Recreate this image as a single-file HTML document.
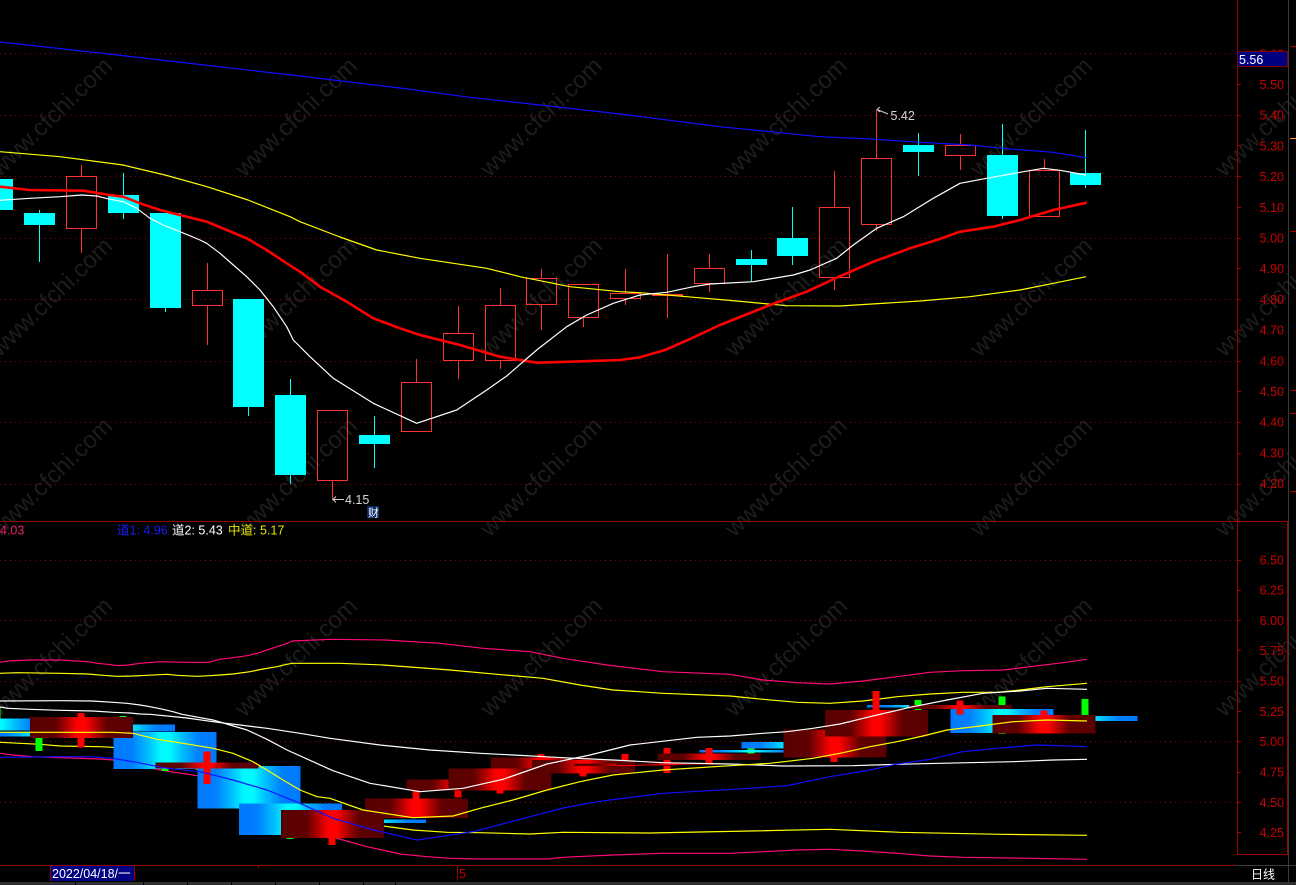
<!DOCTYPE html>
<html><head><meta charset="utf-8"><style>
html,body{margin:0;padding:0;background:#000;overflow:hidden;}
svg{display:block;font-family:"Liberation Sans","Noto Sans CJK SC",sans-serif;}
</style></head><body>
<svg width="1296" height="885" viewBox="0 0 1296 885" xmlns="http://www.w3.org/2000/svg">
<defs>
<linearGradient id="gb" x1="0" y1="0" x2="1" y2="0">
<stop offset="0" stop-color="#0078ff"/><stop offset="0.18" stop-color="#0080ff"/><stop offset="0.35" stop-color="#00c4ff"/><stop offset="0.45" stop-color="#00f8ff"/><stop offset="0.55" stop-color="#00f8ff"/><stop offset="0.65" stop-color="#00c4ff"/><stop offset="0.82" stop-color="#0080ff"/><stop offset="1" stop-color="#0078ff"/>
</linearGradient>
<linearGradient id="gr" x1="0" y1="0" x2="1" y2="0">
<stop offset="0" stop-color="#580000"/><stop offset="0.25" stop-color="#600000"/><stop offset="0.42" stop-color="#e00000"/><stop offset="0.46" stop-color="#ff0000"/><stop offset="0.54" stop-color="#ff0000"/><stop offset="0.58" stop-color="#e00000"/><stop offset="0.75" stop-color="#600000"/><stop offset="1" stop-color="#580000"/>
</linearGradient>
</defs>
<rect x="0" y="0" width="1296" height="885" fill="#000"/>

<!-- watermarks -->
<g fill="#1d1d1d" font-size="24" text-anchor="middle">
<text x="51" y="125" transform="rotate(-44 51 117)">www.cfchi.com</text>
<text x="296" y="125" transform="rotate(-44 296 117)">www.cfchi.com</text>
<text x="541" y="125" transform="rotate(-44 541 117)">www.cfchi.com</text>
<text x="786" y="125" transform="rotate(-44 786 117)">www.cfchi.com</text>
<text x="1031" y="125" transform="rotate(-44 1031 117)">www.cfchi.com</text>
<text x="1276" y="125" transform="rotate(-44 1276 117)">www.cfchi.com</text>
<text x="51" y="305" transform="rotate(-44 51 297)">www.cfchi.com</text>
<text x="296" y="305" transform="rotate(-44 296 297)">www.cfchi.com</text>
<text x="541" y="305" transform="rotate(-44 541 297)">www.cfchi.com</text>
<text x="786" y="305" transform="rotate(-44 786 297)">www.cfchi.com</text>
<text x="1031" y="305" transform="rotate(-44 1031 297)">www.cfchi.com</text>
<text x="1276" y="305" transform="rotate(-44 1276 297)">www.cfchi.com</text>
<text x="51" y="485" transform="rotate(-44 51 477)">www.cfchi.com</text>
<text x="296" y="485" transform="rotate(-44 296 477)">www.cfchi.com</text>
<text x="541" y="485" transform="rotate(-44 541 477)">www.cfchi.com</text>
<text x="786" y="485" transform="rotate(-44 786 477)">www.cfchi.com</text>
<text x="1031" y="485" transform="rotate(-44 1031 477)">www.cfchi.com</text>
<text x="1276" y="485" transform="rotate(-44 1276 477)">www.cfchi.com</text>
<text x="51" y="665" transform="rotate(-44 51 657)">www.cfchi.com</text>
<text x="296" y="665" transform="rotate(-44 296 657)">www.cfchi.com</text>
<text x="541" y="665" transform="rotate(-44 541 657)">www.cfchi.com</text>
<text x="786" y="665" transform="rotate(-44 786 657)">www.cfchi.com</text>
<text x="1031" y="665" transform="rotate(-44 1031 657)">www.cfchi.com</text>
<text x="1276" y="665" transform="rotate(-44 1276 657)">www.cfchi.com</text>
</g>

<!-- gridlines -->
<g stroke="#8b0000" stroke-width="1" stroke-dasharray="1 4" shape-rendering="crispEdges">
<line x1="0" y1="53.5" x2="1237" y2="53.5"/>
<line x1="0" y1="115.5" x2="1237" y2="115.5"/>
<line x1="0" y1="176.5" x2="1237" y2="176.5"/>
<line x1="0" y1="238.5" x2="1237" y2="238.5"/>
<line x1="0" y1="299.5" x2="1237" y2="299.5"/>
<line x1="0" y1="361.5" x2="1237" y2="361.5"/>
<line x1="0" y1="422.5" x2="1237" y2="422.5"/>
<line x1="0" y1="484.5" x2="1237" y2="484.5"/>
<line x1="0" y1="560.5" x2="1237" y2="560.5"/>
<line x1="0" y1="620.5" x2="1237" y2="620.5"/>
<line x1="0" y1="681.5" x2="1237" y2="681.5"/>
<line x1="0" y1="741.5" x2="1237" y2="741.5"/>
<line x1="0" y1="802.5" x2="1237" y2="802.5"/>
</g>

<!-- upper candles: down (cyan) -->
<g stroke="#00ffff" stroke-width="1" shape-rendering="crispEdges">
<line x1="39.5" y1="210" x2="39.5" y2="262"/>
<line x1="123.5" y1="173" x2="123.5" y2="219"/>
<line x1="165.5" y1="213" x2="165.5" y2="312"/>
<line x1="248.5" y1="299" x2="248.5" y2="416"/>
<line x1="290.5" y1="379" x2="290.5" y2="484"/>
<line x1="374.5" y1="416" x2="374.5" y2="468"/>
<line x1="751.5" y1="250" x2="751.5" y2="281"/>
<line x1="792.5" y1="207" x2="792.5" y2="265"/>
<line x1="918.5" y1="133" x2="918.5" y2="176"/>
<line x1="1002.5" y1="124" x2="1002.5" y2="219"/>
<line x1="1085.5" y1="130" x2="1085.5" y2="188"/>
</g>
<g fill="#00ffff" shape-rendering="crispEdges">
<rect x="-18" y="179" width="31" height="31"/>
<rect x="24" y="213" width="31" height="12"/>
<rect x="108" y="195" width="31" height="18"/>
<rect x="150" y="213" width="31" height="95"/>
<rect x="233" y="299" width="31" height="108"/>
<rect x="275" y="395" width="31" height="80"/>
<rect x="359" y="435" width="31" height="9"/>
<rect x="736" y="259" width="31" height="6"/>
<rect x="777" y="238" width="31" height="18"/>
<rect x="903" y="145" width="31" height="7"/>
<rect x="987" y="155" width="31" height="61"/>
<rect x="1070" y="173" width="31" height="12"/>
</g>
<!-- upper candles: up (red hollow) -->
<g stroke="#ff3232" stroke-width="1" fill="none" shape-rendering="crispEdges">
<line x1="81.5" y1="165" x2="81.5" y2="176"/><line x1="81.5" y1="229" x2="81.5" y2="253"/>
<rect x="66.5" y="176.5" width="30" height="52"/>
<line x1="207.5" y1="263" x2="207.5" y2="290"/><line x1="207.5" y1="306" x2="207.5" y2="345"/>
<rect x="192.5" y="290.5" width="30" height="15"/>
<line x1="332.5" y1="481" x2="332.5" y2="500"/>
<rect x="317.5" y="410.5" width="30" height="70"/>
<line x1="416.5" y1="359" x2="416.5" y2="382"/>
<rect x="401.5" y="382.5" width="30" height="49"/>
<line x1="458.5" y1="306" x2="458.5" y2="333"/><line x1="458.5" y1="361" x2="458.5" y2="379"/>
<rect x="443.5" y="333.5" width="30" height="27"/>
<line x1="500.5" y1="288" x2="500.5" y2="305"/><line x1="500.5" y1="361" x2="500.5" y2="369"/>
<rect x="485.5" y="305.5" width="30" height="55"/>
<line x1="541.5" y1="269" x2="541.5" y2="278"/><line x1="541.5" y1="305" x2="541.5" y2="330"/>
<rect x="526.5" y="278.5" width="30" height="26"/>
<line x1="583.5" y1="318" x2="583.5" y2="327"/>
<rect x="568.5" y="284.5" width="30" height="33"/>
<line x1="625.5" y1="269" x2="625.5" y2="293"/><line x1="625.5" y1="299" x2="625.5" y2="305"/>
<rect x="610.5" y="293.5" width="30" height="5"/>
<line x1="667.5" y1="254" x2="667.5" y2="294"/><line x1="667.5" y1="296" x2="667.5" y2="318"/>
<rect x="652.5" y="294.5" width="30" height="1"/>
<line x1="709.5" y1="254" x2="709.5" y2="268"/><line x1="709.5" y1="284" x2="709.5" y2="292"/>
<rect x="694.5" y="268.5" width="30" height="15"/>
<line x1="834.5" y1="171" x2="834.5" y2="207"/><line x1="834.5" y1="278" x2="834.5" y2="290"/>
<rect x="819.5" y="207.5" width="30" height="70"/>
<line x1="876.5" y1="110" x2="876.5" y2="158"/><line x1="876.5" y1="225" x2="876.5" y2="231"/>
<rect x="861.5" y="158.5" width="30" height="66"/>
<line x1="960.5" y1="134" x2="960.5" y2="145"/><line x1="960.5" y1="156" x2="960.5" y2="170"/>
<rect x="945.5" y="145.5" width="30" height="10"/>
<line x1="1044.5" y1="159" x2="1044.5" y2="170"/>
<rect x="1029.5" y="170.5" width="30" height="46"/>
</g>

<!-- upper MA lines -->
<g fill="none" stroke-linejoin="round">
<polyline stroke="#ffff00" stroke-width="1.2" points="0,151.7 60,156.7 123,165 165,175 207,186.7 248,200 290,216.7 300,221.7 340,237 376.7,250 420,258.3 486.7,268.3 520,276.7 570,286.7 620,291.7 640,292.7 686.7,296.7 736.7,301 786.7,305.7 840,306 920,301 970,296.7 1020,290 1053.3,283.3 1086,276.7"/>
<polyline stroke="#1010ff" stroke-width="1.2" points="0,42 100,53 200,64.5 300,76 400,88 470,97.3 540,105 620,114 720,126.7 820,136.7 870,139 920,142.3 970,145 1003,148.3 1053,152.3 1086,157.7"/>
<polyline stroke="#ff0000" stroke-width="2.6" points="0,186.7 30,190 83.3,190.7 110,195 123.3,196.7 140,203.3 160,210 180,215 200,220 206.7,221.7 226.7,230 246.7,238.3 266.7,250 286.7,263.3 300,271.7 320,286.7 346.7,301.7 373.3,318.3 400,328.3 420,335 460,345 500,356.7 536.7,362.7 570,361.7 620,360 640,357.3 665,350 690,339 720,325 770,305 806.7,291.7 836.7,277.7 873.3,261.7 910,248.3 936.7,240 960,231.7 993.3,226.7 1020,220 1053.3,210 1086.7,202.7"/>
<polyline stroke="#ffffff" stroke-width="1.2" points="0,200.3 30,198.3 60,196.7 81.7,195 96.7,196 110,199.3 123.3,201.7 136.7,208.3 150,218.3 163.3,225 180,231.7 200,240 206.7,243.3 220,253.3 233.3,265 246.7,276.7 260,290 273.3,306.7 286.7,326.7 293.3,340 310,356.7 333.3,378.3 373.3,403.3 416.7,423.3 456.7,410 486.7,390 506.7,376 536.7,350 566.7,326.7 586.7,315 613.3,303.3 640,295 666.7,292.3 693.3,286.7 710,284 753.3,281.7 793.3,275 810,270 836.7,258.3 853.3,245 876.7,228.3 903.3,216.7 933.3,198.3 960,183.3 986.7,178.3 1020,172.3 1043.3,168.3 1060,170.3 1086,175"/>
</g>

<!-- annotations -->
<g stroke="#d0d0d0" stroke-width="1" fill="none">
<polyline points="888,114 877,109.5"/><polyline points="880,107 877,109.5 880,112"/>
<polyline points="344,499.5 333,499.5"/><polyline points="336,496.5 333,499.5 336,502.5"/>
</g>
<text x="890.5" y="120" font-size="12.5" fill="#d8d8d8">5.42</text>
<text x="345" y="504" font-size="12.5" fill="#d8d8d8">4.15</text>
<rect x="367" y="506" width="12" height="12" fill="#0a2a6a"/>
<text x="368" y="516.5" font-size="11" fill="#ffffff">财</text>

<!-- panel separator -->
<line x1="0" y1="521.5" x2="1237" y2="521.5" stroke="#900000" stroke-width="1"/>

<!-- lower legend -->
<g font-size="12.5">
<text x="0" y="534.5" fill="#ee1e6c">4.03</text>
<text x="117" y="534.5" fill="#1c1cff">道1: 4.96</text>
<text x="172" y="534.5" fill="#ffffff">道2: 5.43</text>
<text x="228" y="534.5" fill="#e6e600">中道: 5.17</text>
</g>

<!-- lower background-ish lines (behind boxes) -->
<g fill="none" stroke-width="1.2" stroke-linejoin="round">
<polyline stroke="#ff0a78" points="0,662.3 8,661 30,660 60,660 88,661.7 97,663.3 108,664.3 118,665.7 128,665 140,663.3 160,661.7 187,662.3 208,662.3 220,659.3 233,657.7 247,655.7 257,653.3 267,650 277,646.7 287,643.3 292,641 330,639.3 385,640 440,643.3 483,648.3 530,651.7 563,658.3 607,665 663,671.7 730,674.3 763,680 797,682.7 830,684 863,681 897,676.7 930,672.3 963,670.7 1003,670 1030,666.7 1063,662.7 1087,659.3"/>
<polyline stroke="#ffff00" points="0,673.3 17,672.7 60,673.3 88,674 103,675.3 117,676.3 133,676 147,675.3 167,674.3 177,675.3 197,676.3 210,675.7 220,675 233,674 250,671.7 263,669 277,666.7 287,664.3 292,663.3 340,663.3 383,665 450,670 497,674.3 543,678.3 580,685 613,690 663,693.3 730,696 763,699.3 797,702.3 830,703.3 863,701 897,696.7 930,694 963,692.3 997,692.3 1020,690 1047,686.7 1087,683.3"/>
<polyline stroke="#ff0a78" points="0,753.3 13,755 33,756.7 60,757.7 100,759 113,760 160,770 197,775.7 250,795 290,818 330,836 343,840 367,846.7 400,854 427,856.7 450,858.3 480,859 547,859 563,857.3 613,855 663,853.3 730,853.3 763,851.7 797,850 830,849.3 863,851 897,853.3 930,856 963,857.3 1030,858.3 1087,859.3"/>
<polyline stroke="#ffff00" points="0,742.3 20,743.3 40,744.3 60,746 100,746.7 113,747.3 150,755 207,772 260,795 300,812 340,822 383,826 413,830 447,832.3 480,832.7 530,834 563,832.3 650,833 750,831 830,829.3 900,832.3 1000,834.3 1087,835.3"/>
</g>

<!-- green wicks -->
<g fill="#00ff00" shape-rendering="crispEdges">
<rect x="-6.5" y="706.7" width="7" height="18.3"/>
<rect x="35.5" y="730.6" width="7" height="20.5"/>
<rect x="119.5" y="716" width="7" height="18.2"/>
<rect x="161.5" y="731.8" width="7" height="39.1"/>
<rect x="244.5" y="765.8" width="7" height="46.1"/>
<rect x="286.5" y="797.4" width="7" height="41.5"/>
<rect x="370.5" y="811.9" width="7" height="20.6"/>
<rect x="747.5" y="746.4" width="7" height="12.2"/>
<rect x="788.5" y="729.5" width="7" height="22.7"/>
<rect x="914.5" y="700.1" width="7" height="17.1"/>
<rect x="998.5" y="696.7" width="7" height="37.4"/>
<rect x="1081.5" y="699" width="7" height="22.9"/>
</g>
<!-- blue boxes -->
<g fill="url(#gb)" shape-rendering="crispEdges">
<rect x="-53.75" y="718.4" width="103" height="12.2"/>
<rect x="-11.9" y="731.7" width="103" height="4.7"/>
<rect x="71.8" y="724.7" width="103" height="7"/>
<rect x="113.65" y="731.8" width="103" height="37.4"/>
<rect x="197.35" y="765.8" width="103" height="42.6"/>
<rect x="239.2" y="803.7" width="103" height="31.5"/>
<rect x="322.9" y="819.5" width="103" height="3.5"/>
<rect x="699.55" y="750" width="103" height="2.4"/>
<rect x="741.4" y="741.8" width="103" height="6.9"/>
<rect x="866.95" y="705" width="103" height="2.6"/>
<rect x="950.65" y="708.9" width="103" height="24"/>
<rect x="1034.35" y="716" width="103" height="4.8"/>
</g>
<!-- red wicks -->
<g fill="#ff0000" shape-rendering="crispEdges">
<rect x="77.5" y="712.9" width="7" height="34.6"/>
<rect x="203.5" y="751.6" width="7" height="32.4"/>
<rect x="328.5" y="809.8" width="7" height="35.4"/>
<rect x="412.5" y="789.5" width="7" height="28.7"/>
<rect x="454.5" y="768.6" width="7" height="28.7"/>
<rect x="496.5" y="761.5" width="7" height="32.1"/>
<rect x="537.5" y="753.9" width="7" height="24.2"/>
<rect x="579.5" y="760" width="7" height="16.7"/>
<rect x="621.5" y="753.9" width="7" height="14.3"/>
<rect x="663.5" y="748.1" width="7" height="25.1"/>
<rect x="705.5" y="748.1" width="7" height="15.1"/>
<rect x="830.5" y="715.2" width="7" height="47"/>
<rect x="872.5" y="691.1" width="7" height="47.8"/>
<rect x="956.5" y="700.6" width="7" height="14.1"/>
<rect x="1040.5" y="710.5" width="7" height="22.8"/>
</g>
<!-- red boxes -->
<g fill="url(#gr)" shape-rendering="crispEdges">
<rect x="29.95" y="717.2" width="103" height="20.8"/>
<rect x="155.5" y="762.4" width="103" height="6"/>
<rect x="281.05" y="809.8" width="103" height="28"/>
<rect x="364.75" y="798.7" width="103" height="19.5"/>
<rect x="406.6" y="779.4" width="103" height="11"/>
<rect x="448.45" y="768.3" width="103" height="22.1"/>
<rect x="490.3" y="757.5" width="103" height="10.8"/>
<rect x="532.15" y="760" width="103" height="13.4"/>
<rect x="574" y="763.3" width="103" height="2.5"/>
<rect x="615.85" y="763.5" width="103" height="1.5"/>
<rect x="657.7" y="753.7" width="103" height="6.3"/>
<rect x="783.25" y="729.6" width="103" height="28"/>
<rect x="825.1" y="710.2" width="103" height="26.5"/>
<rect x="908.8" y="705" width="103" height="4.2"/>
<rect x="992.5" y="714.8" width="103" height="18.5"/>
</g>

<!-- lower foreground lines -->
<g fill="none" stroke-width="1.2" stroke-linejoin="round">
<polyline stroke="#ffffff" points="0,707 8,708.3 30,709.3 60,710.3 93,711 113,712.3 130,713 140,714 150,714.3 187,718 213,721.7 240,725 267,728.3 300,733.3 330,738.3 380,745 430,750 480,753.3 513,755 563,757.7 613,760 663,762.7 730,764 783,766 853,765.7 897,764.3 940,763.3 1013,761.7 1053,760 1087,759.3"/>
<polyline stroke="#1010ff" points="0,757.3 60,756.7 90,756.7 113,758.3 133,761.7 167,768.3 200,771.7 233,780 267,790 300,803.3 333,818.3 370,829 416.7,840 473,831.7 530,816.7 563,808 597,801.7 663,793.3 750,788.3 787,785.7 830,776.7 870,770 897,764 930,759.3 963,751.7 997,748.3 1037,745 1087,746.7"/>
<polyline stroke="#ffff00" points="0,732.3 113,732.3 133,733.3 157,739.3 183,743.3 213,748.3 233,753.3 253,761.7 267,770 283,780 300,790 317,796.7 330,798.3 363,810 413,817.7 453,816 480,808.3 513,800 547,790 580,781.7 613,775 663,770 730,765.7 770,763.3 813,758.3 840,753.3 870,746.7 897,741.7 923,736 947,730 980,726 1013,721.7 1047,720 1087,721"/>
<polyline stroke="#ffffff" points="0,701 60,700.7 92,701 113,702.3 127,703.3 140,705 150,706.7 163,709.3 173,711.7 182,714.3 213,720 247,730 267,739.3 287,750 313,761.7 333,770.7 370,783.3 420,791.7 463,788.3 503,779.3 547,764 590,755 630,745 697,737.3 730,736 763,733.3 787,731.7 813,728.3 840,724 870,716.7 910,707.3 947,700 983,693.3 1020,691 1047,688.3 1087,689.3"/>
</g>

<!-- right axis -->
<g shape-rendering="crispEdges">
<line x1="1237.5" y1="0" x2="1237.5" y2="521" stroke="#900000"/>
<rect x="1237.5" y="521.5" width="50" height="333" fill="none" stroke="#a00000"/>
<line x1="1288.5" y1="0" x2="1288.5" y2="885" stroke="#3a3a3a"/>
<line x1="1230" y1="865.5" x2="1296" y2="865.5" stroke="#3a3a3a"/>
<g stroke="#a00000">
<line x1="1237" y1="53.5" x2="1241" y2="53.5"/><line x1="1237" y1="84.5" x2="1241" y2="84.5"/><line x1="1237" y1="115.5" x2="1241" y2="115.5"/><line x1="1237" y1="145.5" x2="1241" y2="145.5"/><line x1="1237" y1="176.5" x2="1241" y2="176.5"/><line x1="1237" y1="207.5" x2="1241" y2="207.5"/><line x1="1237" y1="238.5" x2="1241" y2="238.5"/><line x1="1237" y1="268.5" x2="1241" y2="268.5"/><line x1="1237" y1="299.5" x2="1241" y2="299.5"/><line x1="1237" y1="330.5" x2="1241" y2="330.5"/><line x1="1237" y1="361.5" x2="1241" y2="361.5"/><line x1="1237" y1="391.5" x2="1241" y2="391.5"/><line x1="1237" y1="422.5" x2="1241" y2="422.5"/><line x1="1237" y1="453.5" x2="1241" y2="453.5"/><line x1="1237" y1="484.5" x2="1241" y2="484.5"/>
<line x1="1237" y1="560.5" x2="1241" y2="560.5"/><line x1="1237" y1="590.5" x2="1241" y2="590.5"/><line x1="1237" y1="620.5" x2="1241" y2="620.5"/><line x1="1237" y1="650.5" x2="1241" y2="650.5"/><line x1="1237" y1="681.5" x2="1241" y2="681.5"/><line x1="1237" y1="711.5" x2="1241" y2="711.5"/><line x1="1237" y1="741.5" x2="1241" y2="741.5"/><line x1="1237" y1="772.5" x2="1241" y2="772.5"/><line x1="1237" y1="802.5" x2="1241" y2="802.5"/><line x1="1237" y1="832.5" x2="1241" y2="832.5"/>
<line x1="1290" y1="46.5" x2="1296" y2="46.5"/><line x1="1290" y1="231.5" x2="1296" y2="231.5"/><line x1="1290" y1="390.5" x2="1296" y2="390.5"/><line x1="1290" y1="413.5" x2="1296" y2="413.5"/><line x1="1290" y1="491.5" x2="1296" y2="491.5"/>
</g>
<line x1="1290" y1="138.5" x2="1296" y2="138.5" stroke="#ffa020"/>
</g>
<g font-size="12.5" fill="#c80000" text-anchor="end">
<text x="1284" y="58.5">5.60</text>
<text x="1284" y="89">5.50</text>
<text x="1284" y="119.7">5.40</text>
<text x="1284" y="150.4">5.30</text>
<text x="1284" y="181.1">5.20</text>
<text x="1284" y="211.8">5.10</text>
<text x="1284" y="242.5">5.00</text>
<text x="1284" y="273.2">4.90</text>
<text x="1284" y="303.9">4.80</text>
<text x="1284" y="334.6">4.70</text>
<text x="1284" y="365.3">4.60</text>
<text x="1284" y="396">4.50</text>
<text x="1284" y="426.7">4.40</text>
<text x="1284" y="457.4">4.30</text>
<text x="1284" y="488.1">4.20</text>
<text x="1284" y="564.3">6.50</text>
<text x="1284" y="594.6">6.25</text>
<text x="1284" y="624.9">6.00</text>
<text x="1284" y="655.2">5.75</text>
<text x="1284" y="685.5">5.50</text>
<text x="1284" y="715.9">5.25</text>
<text x="1284" y="746.2">5.00</text>
<text x="1284" y="776.5">4.75</text>
<text x="1284" y="806.8">4.50</text>
<text x="1284" y="837.2">4.25</text>
</g>
<rect x="1237.5" y="51.5" width="50" height="15" fill="#000080" stroke="#800000"/>
<text x="1239" y="63.8" font-size="12.5" fill="#ffffff">5.56</text>

<!-- date axis -->
<line x1="0" y1="865.5" x2="1237" y2="865.5" stroke="#900000" shape-rendering="crispEdges"/>
<rect x="50" y="866" width="84" height="15" fill="#000080"/>
<line x1="50.5" y1="866" x2="50.5" y2="881" stroke="#a00000"/>
<line x1="134.5" y1="866" x2="134.5" y2="881" stroke="#a00000"/>
<text x="52" y="878" font-size="12.5" fill="#ffffff">2022/04/18/一</text>
<line x1="258.5" y1="866" x2="258.5" y2="868" stroke="#a00000"/>
<line x1="457.5" y1="866" x2="457.5" y2="881" stroke="#a00000"/>
<text x="459" y="878" font-size="12.5" fill="#c80000">5</text>
<text x="1251" y="878.5" font-size="12" fill="#ffffff">日线</text>
<g fill="#303030" shape-rendering="crispEdges">
<rect x="0" y="882" width="75" height="3"/>
<rect x="76" y="882" width="67" height="3"/>
<rect x="144" y="882" width="43" height="3"/>
<rect x="188" y="882" width="43" height="3"/>
<rect x="232" y="882" width="43" height="3"/>
<rect x="276" y="882" width="43" height="3"/>
<rect x="320" y="882" width="43" height="3"/>
<rect x="364" y="882" width="31" height="3"/>
<rect x="396" y="882" width="900" height="3"/>
</g>
</svg>
</body></html>
